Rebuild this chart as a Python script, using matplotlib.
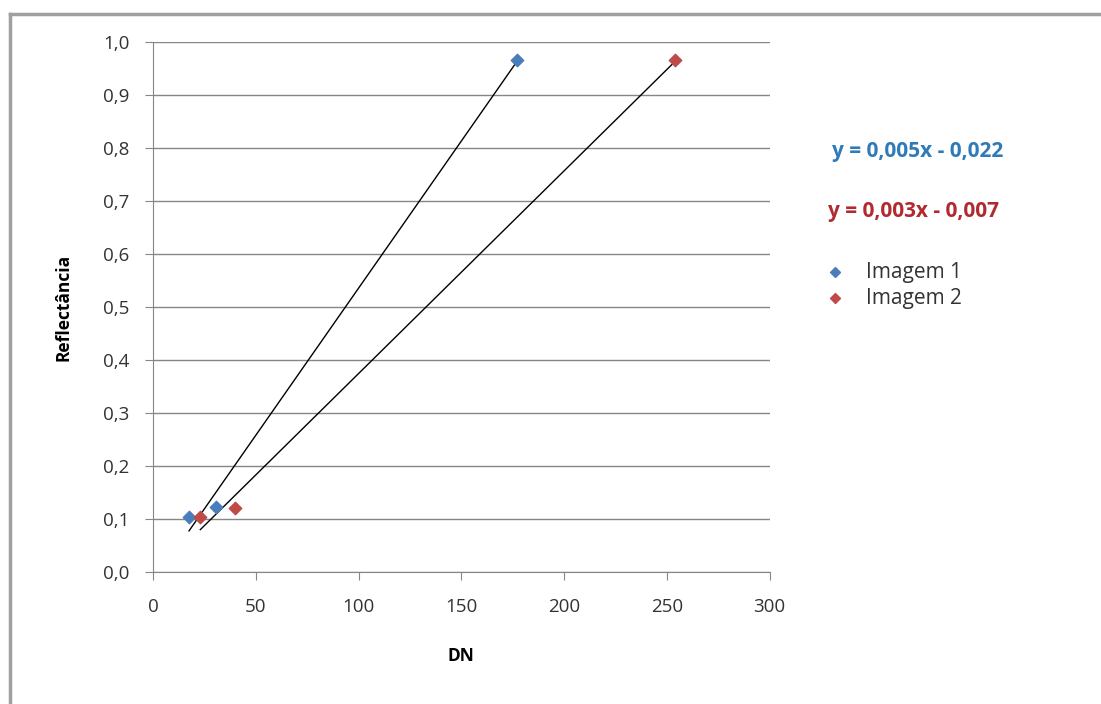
import matplotlib.pyplot as plt
from matplotlib.lines import Line2D
from matplotlib.ticker import FuncFormatter
import numpy as np

plt.rcParams['font.family'] = ['Open Sans', 'DejaVu Sans']

# DN vs reflectance samples for each image
dn_img1 = [17.5, 30.5, 177]
refl_img1 = [0.103, 0.122, 0.965]
dn_img2 = [23, 40, 254]
refl_img2 = [0.103, 0.120, 0.965]

eq_img1 = "y = 0,005x - 0,022"
eq_img2 = "y = 0,003x - 0,007"

blue = "#4a7ebb"
red = "#be4b48"
grid_gray = "#868686"

fig = plt.figure(figsize=(11.01, 7.04), dpi=100)
ax = fig.add_axes([0.139, 0.1875, 0.560, 0.753])

ax.scatter(dn_img1, refl_img1, marker="D", s=40, color=blue, zorder=3, label="Imagem 1")
ax.scatter(dn_img2, refl_img2, marker="D", s=40, color=red, zorder=3, label="Imagem 2")

# linear trend lines over each data range
for xs, ys in [(dn_img1, refl_img1), (dn_img2, refl_img2)]:
    k, b = np.polyfit(xs, ys, 1)
    xx = np.array([min(xs), max(xs)])
    ax.plot(xx, k * xx + b, color="black", lw=1.0, zorder=2)

ax.set_xlim(0, 300)
ax.set_ylim(0, 1.0)
ax.set_xticks(np.arange(0, 301, 50))
ax.set_yticks(np.arange(0, 1.01, 0.1))
ax.yaxis.set_major_formatter(FuncFormatter(lambda v, p: f"{v:.1f}".replace(".", ",")))
ax.grid(axis="y", color=grid_gray, lw=1.0)
ax.set_axisbelow(True)
for s in ["top", "right"]:
    ax.spines[s].set_visible(False)
for s in ["left", "bottom"]:
    ax.spines[s].set_color(grid_gray)
ax.tick_params(direction="out", length=6, color=grid_gray, labelsize=13.5,
               labelcolor="#333333")
ax.tick_params(axis="x", pad=13)
ax.tick_params(axis="y", pad=11)

ax.set_xlabel("DN", fontsize=12.5, fontweight="bold", labelpad=22)
ax.set_ylabel("Reflectância", fontsize=12.5, fontweight="bold", labelpad=22)

fig.text(0.756, 0.785, eq_img1, color="#2f7ab8", fontsize=15, fontweight="bold",
         va="center")
fig.text(0.752, 0.700, eq_img2, color="#b02a2f", fontsize=15, fontweight="bold",
         va="center")

leg = fig.legend(loc="upper left", bbox_to_anchor=(0.722, 0.655), frameon=False,
                 fontsize=15, handletextpad=0.5, labelspacing=0.25, markerscale=0.8)
for t in leg.get_texts():
    t.set_color("#333333")

# chart area border
fig.add_artist(Line2D([0.0095, 1.0], [0.9805, 0.9805], color="#a0a0a0", lw=2.5))
fig.add_artist(Line2D([0.0095, 0.0095], [0.0, 0.9805], color="#a0a0a0", lw=2.5))

fig.savefig("out.png", dpi=100)
